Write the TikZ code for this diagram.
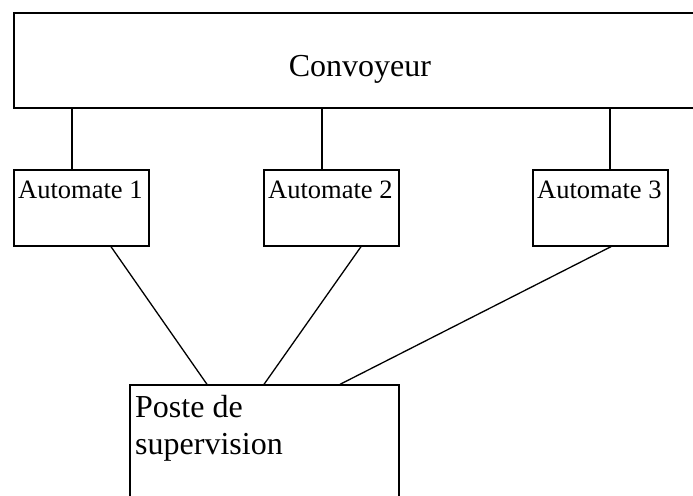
\documentclass[tikz,border=0pt]{standalone}
\usepackage{fontspec}
\setmainfont{Liberation Serif}
\usetikzlibrary{calc}
\tikzset{
  box/.style={draw, line width=1.3pt, rectangle, inner sep=0pt},
  wire/.style={line width=1.3pt},
  small/.style={font=\fontsize{26.5}{31}\selectfont, inner sep=0pt, anchor=base west},
  big/.style={font=\fontsize{32}{37}\selectfont, inner sep=0pt, anchor=base west},
}
\begin{document}
\begin{tikzpicture}[x=1pt, y=-1pt]
\useasboundingbox (0,0) rectangle (693,495);

% boxes
\node[box, minimum width=706pt, minimum height=95pt] (conv) at (367,60.5) {};
\node[box, minimum width=135pt, minimum height=76pt] (a1) at (81.5,208) {};
\node[box, minimum width=135pt, minimum height=76pt] (a2) at (331.5,208) {};
\node[box, minimum width=135pt, minimum height=76pt] (a3) at (600.5,208) {};
\node[box, minimum width=269pt, minimum height=135pt] (poste) at (264.5,452.5) {};

% labels
\node[big, anchor=base] (tconv) at (360,76.7) {Convoyeur};
\node[small] (t1) at (18,198) {Automate 1};
\node[small] (t2) at (268,198) {Automate 2};
\node[small] (t3) at (537,198) {Automate 3};
\node[big] (tp1) at (135,417) {Poste de};
\node[big] (tp2) at (135,454) {supervision};

% conveyor to controllers
\draw[wire] ([xshift=-9.5pt]a1.north) -- ([xshift=-9.5pt]a1.north |- conv.south);
\draw[wire] ([xshift=-9.5pt]a2.north) -- ([xshift=-9.5pt]a2.north |- conv.south);
\draw[wire] ([xshift=9.5pt]a3.north) -- ([xshift=9.5pt]a3.north |- conv.south);

% controllers to supervision station
\draw[wire] ([xshift=29.5pt]a1.south) -- ([xshift=-57.5pt]poste.north);
\draw[wire] ([xshift=29.5pt]a2.south) -- ([xshift=-0.5pt]poste.north);
\draw[wire] ([xshift=10.5pt]a3.south) -- ([xshift=75.5pt]poste.north);
\end{tikzpicture}
\end{document}
